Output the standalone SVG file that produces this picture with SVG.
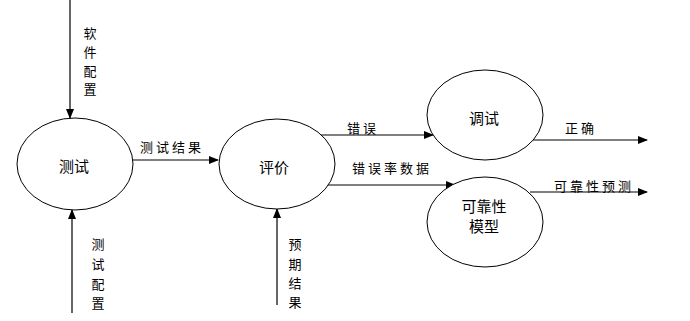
<svg xmlns="http://www.w3.org/2000/svg" width="690" height="321" viewBox="0 0 690 321">
<style>
.n{fill:#fff;stroke:#000;stroke-width:1}
.c line{stroke:#000;stroke-width:1.2}
text{font-family:"Noto Sans CJK SC","Liberation Sans",sans-serif;fill:#000}
.t{font-size:15px;text-anchor:middle;dominant-baseline:central}
.l{font-size:13px;letter-spacing:3px;dominant-baseline:central}
.v{font-size:13px;text-anchor:middle;dominant-baseline:central}
</style>
<defs>
<marker id="a" markerWidth="10" markerHeight="8" refX="9" refY="4" orient="auto" markerUnits="userSpaceOnUse">
<path d="M0,0 L10,4 L0,8 Z" fill="#000"/>
</marker>
</defs>
<g class="c">
<line x1="70" y1="0" x2="70" y2="118" marker-end="url(#a)"/>
<line x1="72" y1="313" x2="72" y2="210" marker-end="url(#a)"/>
<line x1="133" y1="160" x2="218" y2="160" marker-end="url(#a)"/>
<line x1="277" y1="305" x2="277" y2="209" marker-end="url(#a)"/>
<line x1="318" y1="135" x2="433" y2="135" marker-end="url(#a)"/>
<line x1="325" y1="185" x2="455" y2="185" marker-end="url(#a)"/>
<line x1="530" y1="140" x2="647" y2="140" marker-end="url(#a)"/>
<line x1="530" y1="192" x2="647" y2="192" marker-end="url(#a)"/>
</g>
<g id="test"><ellipse class="n" cx="75" cy="164" rx="58" ry="46"/><text class="t" x="74" y="165">测试</text></g>
<g id="eval"><ellipse class="n" cx="277" cy="164" rx="58" ry="45"/><text class="t" x="274" y="166">评价</text></g>
<g id="debug"><ellipse class="n" cx="485" cy="115" rx="58" ry="45"/><text class="t" x="484" y="117">调试</text></g>
<g id="model"><ellipse class="n" cx="485" cy="222" rx="58" ry="45"/><text class="t" x="484" y="205">可靠性</text><text class="t" x="484" y="225">模型</text></g>
<g id="labels">
<text class="v" x="90" y="32">软</text><text class="v" x="90" y="51">件</text><text class="v" x="90" y="70">配</text><text class="v" x="90" y="88">置</text>
<text class="v" x="98" y="243">测</text><text class="v" x="98" y="263">试</text><text class="v" x="98" y="283">配</text><text class="v" x="98" y="302">置</text>
<text class="v" x="295" y="243">预</text><text class="v" x="295" y="263">期</text><text class="v" x="295" y="282">结</text><text class="v" x="295" y="301">果</text>
<text class="l" x="140" y="146">测试结果</text>
<text class="l" x="347" y="127">错误</text>
<text class="l" x="352" y="167">错误率数据</text>
<text class="l" x="565" y="127">正确</text>
<text class="l" x="554" y="185">可靠性预测</text>
</g>
</svg>
